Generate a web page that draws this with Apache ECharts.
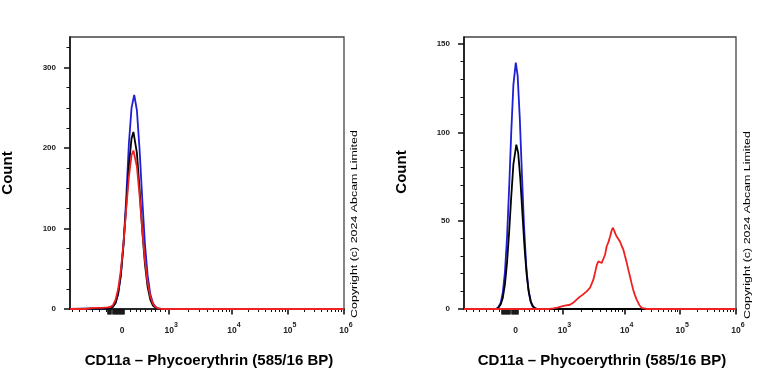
<!DOCTYPE html>
<html><head><meta charset="utf-8">
<script src="https://cdn.jsdelivr.net/npm/echarts@6/dist/echarts.min.js"></script>
<style>html,body{margin:0;padding:0;background:#fff}#c{width:768px;height:384px}</style>
</head><body><div id="c"></div>
<script>
// x axis is in display "channel" units (0..1024) of a biexponential scale
const xMajorPos = [194.6, 370.7, 605, 814, 1024];
const xTickLabels = ['0', '10^3', '10^4', '10^5', '10^6'];
const xMinorNeg = [9, 34, 59, 84, 109, 134];
const xCluster = [142, 146, 150, 154, 158, 162, 166, 170, 174, 178, 182, 186, 190, 198, 202];
const xMinorLin = [227, 246, 264, 283, 302, 320, 339, 355];

// Left panel
const leftYMax = 338;
const leftYMajor = [0, 100, 200, 300];
const leftBlue = [[0,0],[150,0.7],[160,2.4],[170,7.2],[180,18.6],[190,41.8],[200,81.4],[210,137],[220,205],[230,250],[240,266],[250,247],[260,198],[270,137],[280,81],[290,42],[300,18.6],[310,7],[320,2.4],[330,0.7],[340,0],[1024,0]];
const leftBlack = [[0,0],[150,0.8],[160,2.7],[170,7.9],[180,19.9],[190,42.9],[200,79.9],[210,128],[220,177.7],[230,212],[237,220],[240,218.5],[250,194],[260,149],[270,98],[280,56],[290,27.6],[300,11.7],[310,4.3],[320,1.3],[330,0.4],[340,0],[1024,0]];
const leftRed = [[0,0],[60,0],[80,1],[100,1.5],[120,1.5],[140,2],[150,2.5],[160,4.5],[170,11.3],[180,24.8],[190,48],[200,82],[210,124],[220,164],[230,191],[237,197],[250,177],[260,141],[270,98],[280,60.6],[290,32.8],[300,15.7],[310,6.6],[320,2.4],[330,0.8],[340,0.3],[350,0],[1024,0]];

// Right panel
const rightYMax = 154;
const rightYMajor = [0, 50, 100, 150];
const rightBlue = [[0,0],[122,0],[130,1.2],[138,3.5],[146,9.2],[154,20.7],[162,40.6],[170,68.7],[178,100.5],[186,127],[195,139.5],[202,132],[210,108],[218,76.6],[226,46.9],[234,24.9],[242,11.4],[250,4.5],[258,1.5],[266,0.4],[274,0],[1024,0]];
const rightBlack = [[0,0],[122,0],[130,0.9],[138,2.6],[146,6.3],[154,13.8],[162,26.2],[170,43.8],[178,64],[186,82],[197,93],[204,88.4],[212,73.7],[220,53.8],[228,34.5],[236,19.3],[244,9.5],[252,4.1],[260,1.5],[268,0.5],[276,0],[1024,0]];
const rightRed = [[0,0],[320,0],[336,0.3],[352,0.8],[368,1.5],[384,2],[399,2.4],[415,4],[430,6.2],[446,8],[462,10],[474,11.9],[487,16.6],[494,21],[500,25],[506,27],[512,27],[518,26],[524,26],[531,30.7],[537,35.4],[544,38],[550,41],[555,44],[560,46],[565,44.5],[570,42.5],[575,41],[581,40],[587,38.2],[593,36],[600,33.5],[606,30],[613,26],[619,22],[625,18.4],[631,14.5],[637,10.9],[643,8],[650,5.3],[660,2.3],[669,0.6],[688,0],[1024,0]];

const COLORS = {blue:'#1f1fd6', black:'#000000', red:'#ee2020'};

// log minor ticks between decades
const xMinorLog = [];
for (let k = 1; k < xMajorPos.length - 1; k++) {
  const a = xMajorPos[k], b = xMajorPos[k+1];
  for (let m = 2; m <= 9; m++) xMinorLog.push(a + Math.log10(m) * (b - a));
}
const xMinorAll = xMinorNeg.concat(xMinorLin, xMinorLog);
const xMajorAll = xMajorPos.concat(xCluster);

function xFmt(v) {
  let best = 0, bd = 1e9;
  xMajorPos.forEach((p, i) => { const d = Math.abs(p - v); if (d < bd) { bd = d; best = i; } });
  const s = xTickLabels[best];
  if (s.indexOf('^') < 0) return '{z|' + s + '}';
  const parts = s.split('^');
  return '{b|' + parts[0] + '}{s|' + parts[1] + '}';
}

const FAM = 'Arial, sans-serif';

function minorVals(max, step, majors) {
  const r = [];
  for (let v = step; v <= max; v += step) if (majors.indexOf(v) < 0) r.push(v);
  return r;
}

function xAxes(gi) {
  return [
    {type:'value', gridIndex:gi, min:0, max:1024, position:'bottom',
     axisLine:{show:true, lineStyle:{color:'#111', width:1.6}},
     axisTick:{show:true, customValues:xMajorAll, length:5.5, lineStyle:{color:'#111', width:1.6}},
     axisLabel:{show:true, customValues:xMajorPos, formatter:xFmt, margin:13, showMinLabel:true, showMaxLabel:true, hideOverlap:false,
       rich:{z:{fontSize:8.5, fontWeight:'bold', fontFamily:FAM, color:'#222', padding:[4,0,0,0]},
             b:{fontSize:8.5, fontWeight:'bold', fontFamily:FAM, color:'#222', padding:[4,0,0,4]},
             s:{fontSize:7, fontWeight:'bold', fontFamily:FAM, color:'#222', verticalAlign:'top', padding:[0,0,4,0]}}},
     splitLine:{show:false}},
    {type:'value', gridIndex:gi, min:0, max:1024, position:'bottom',
     axisLine:{show:false},
     axisTick:{show:true, customValues:xMinorAll, length:3, lineStyle:{color:'#111', width:1}},
     axisLabel:{show:false}, splitLine:{show:false}}
  ];
}
function yAxes(gi, max, majors, step) {
  return [
    {type:'value', gridIndex:gi, min:0, max:max, position:'left',
     axisLine:{show:true, lineStyle:{color:'#111', width:1.6}},
     axisTick:{show:true, customValues:majors, length:6, lineStyle:{color:'#111', width:1.5}},
     axisLabel:{show:true, customValues:majors, margin:14, fontSize:8, fontWeight:'bold', fontFamily:FAM, color:'#222', showMinLabel:true, showMaxLabel:true},
     splitLine:{show:false}},
    {type:'value', gridIndex:gi, min:0, max:max, position:'left',
     axisLine:{show:false},
     axisTick:{show:true, customValues:minorVals(max, step, majors), length:3.5, lineStyle:{color:'#111', width:1}},
     axisLabel:{show:false}, splitLine:{show:false}}
  ];
}
function line(data, color, xi, yi) {
  return {type:'line', data:data, xAxisIndex:xi, yAxisIndex:yi, showSymbol:false, symbol:'none',
    lineStyle:{color:color, width:1.8}, itemStyle:{color:color}, animation:false, clip:true};
}

const chart = echarts.init(document.getElementById('c'), null, {renderer:'canvas'});
function txt(x, y, text, size, weight, rot, sx) {
  const el = {type:'text', x:x, y:y, style:{text:text, fontSize:size, fontWeight:weight, fontFamily:FAM, fill:'#000', align:'center', verticalAlign:'middle'}};
  if (rot) el.rotation = rot;
  if (sx) el.scaleX = sx;
  return el;
}
chart.setOption({
  animation:false,
  backgroundColor:'#fff',
  grid:[
    {left:70, top:37, width:274, height:272, show:true, borderColor:'#444', borderWidth:1.3, backgroundColor:'transparent'},
    {left:464, top:37, width:272, height:272, show:true, borderColor:'#444', borderWidth:1.3, backgroundColor:'transparent'}
  ],
  xAxis: xAxes(0).concat(xAxes(1)),
  yAxis: yAxes(0, leftYMax, leftYMajor, 25).concat(yAxes(1, rightYMax, rightYMajor, 10)),
  series:[
    line(leftBlue, COLORS.blue, 0, 0),
    line(leftBlack, COLORS.black, 0, 0),
    line(leftRed, COLORS.red, 0, 0),
    line(rightBlue, COLORS.blue, 2, 2),
    line(rightBlack, COLORS.black, 2, 2),
    line(rightRed, COLORS.red, 2, 2)
  ],
  graphic:[
    txt(209, 361, 'CD11a – Phycoerythrin (585/16 BP)', 15, 'bold'),
    txt(602, 361, 'CD11a – Phycoerythrin (585/16 BP)', 15, 'bold'),
    txt(8, 173, 'Count', 15, 'bold', Math.PI/2),
    txt(402, 172, 'Count', 15, 'bold', Math.PI/2),
    txt(355, 224, 'Copyright (c) 2024 Abcam Limited', 9, 'normal', Math.PI/2, 1.38),
    txt(748, 225, 'Copyright (c) 2024 Abcam Limited', 9, 'normal', Math.PI/2, 1.38)
  ]
});
</script>
</body></html>
